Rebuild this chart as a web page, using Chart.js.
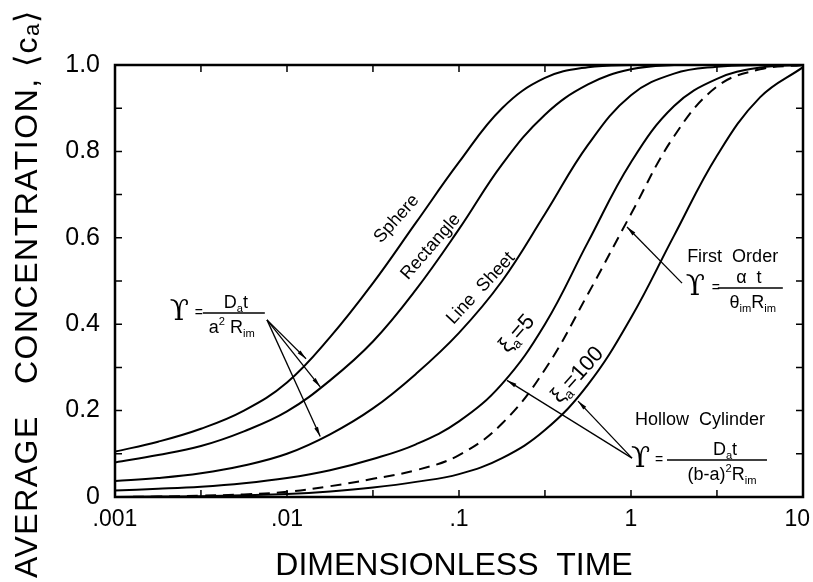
<!DOCTYPE html>
<html>
<head>
<meta charset="utf-8">
<script src="https://cdn.jsdelivr.net/npm/chart.js@4.4.1/dist/chart.umd.min.js"></script>
<style>
  body { margin: 0; background: #fff; }
  canvas { display: block; }
</style>
</head>
<body>
<canvas id="chart" width="813" height="582"></canvas>
<script>
// dimensionless time, sampled every quarter decade
const times = [0.001, 0.00178, 0.00316, 0.00562, 0.01, 0.0178, 0.0316, 0.0562, 0.1, 0.178, 0.316, 0.562, 1, 1.78, 3.16, 5.62, 10];

// average concentration <ca>
const sphere     = [0.105, 0.128, 0.158, 0.2, 0.265, 0.37, 0.495, 0.635, 0.775, 0.9, 0.97, 0.995, 1, 1, 1, 1, 1];
const rectangle  = [0.08, 0.097, 0.118, 0.152, 0.198, 0.27, 0.36, 0.48, 0.62, 0.77, 0.885, 0.955, 0.99, 1, 1, 1, 1];
const lineSheet  = [0.037, 0.044, 0.055, 0.073, 0.1, 0.145, 0.205, 0.285, 0.38, 0.5, 0.655, 0.815, 0.93, 0.98, 0.996, 1, 1];
const hollow5    = [0.015, 0.019, 0.024, 0.032, 0.044, 0.062, 0.088, 0.122, 0.175, 0.262, 0.4, 0.59, 0.775, 0.905, 0.968, 0.994, 1];
const firstOrder = [0, 0.001, 0.003, 0.006, 0.012, 0.025, 0.042, 0.062, 0.097, 0.17, 0.295, 0.47, 0.655, 0.835, 0.95, 0.99, 1];
const hollow100  = [0, 0.001, 0.002, 0.004, 0.007, 0.013, 0.022, 0.035, 0.053, 0.09, 0.155, 0.26, 0.415, 0.605, 0.79, 0.925, 0.995];

const xTickValues = [0.001, 0.01, 0.1, 1, 10];
const xTickLabels = ['.001', '.01', '.1', '1', '10\u2002'];  // en space keeps "10" inside the canvas
const yTickLabels = ['0', '0.2', '0.4', '0.6', '0.8', '1.0'];
const xMarks = [0.001, 0.00316, 0.01, 0.0316, 0.1, 0.316, 1, 3.16, 10];
const yMarks = [0, 0.1, 0.2, 0.3, 0.4, 0.5, 0.6, 0.7, 0.8, 0.9, 1];

const FONT = '"Liberation Sans", Arial, sans-serif';

// labels written along the curves (data position, rotation, lift off the curve in px)
const curveLabels = [
  { runs: [['Sphere', 0]], x: 0.0454, y: 0.637, angle: -48, lift: 6, size: 18 },
  { runs: [['Rectangle', 0]], x: 0.0755, y: 0.565, angle: -49, lift: 11, size: 18 },
  { runs: [['Line  Sheet', 0]], x: 0.147, y: 0.468, angle: -47, lift: 11, size: 18 },
  { runs: [['ξ', 0], ['a', -1], ['=5', 0]], x: 0.229, y: 0.37, angle: -49, lift: 7, size: 22 },
  { runs: [['ξ', 0], ['a', -1], ['=100', 0]], x: 0.49, y: 0.282, angle: -48, lift: 2, size: 22 }
];

const plainLabels = [
  { text: 'First  Order', x: 2.12, y: 0.544 },
  { text: 'Hollow  Cylinder', x: 1.055, y: 0.167 }
];

// x, y: left of the upsilon and height of the fraction bar
const formulas = [
  { x: 0.00214, y: 0.426, eq: 23, bar: [31, 93], numX: 64, denX: 60,
    num: [['D', 0], ['a', -1], ['t', 0]],
    den: [['a', 0], ['2', 1], [' R', 0], ['im', -1]] },
  { x: 2.14, y: 0.484, eq: 24, bar: [30, 95], numX: 61, denX: 65,
    num: [['α  t', 0]],
    den: [['θ', 0], ['im', -1], ['R', 0], ['im', -1]] },
  { x: 1.027, y: 0.0856, eq: 22, bar: [34, 134], numX: 92, denX: 89,
    num: [['D', 0], ['a', -1], ['t', 0]],
    den: [['(b-a)', 0], ['2', 1], ['R', 0], ['im', -1]] }
];

const arrows = [
  { from: [0.00765, 0.41], to: [0.0129, 0.32] },
  { from: [0.00765, 0.41], to: [0.0156, 0.255] },
  { from: [0.00765, 0.41], to: [0.0156, 0.14] },
  { from: [1.98, 0.495], to: [0.948, 0.625] },
  { from: [1.0135, 0.09], to: [0.19, 0.27] },
  { from: [1.0135, 0.09], to: [0.492, 0.222] }
];

function series(values) {
  return times.map((t, i) => ({ x: t, y: values[i] }));
}

function runsWidth(ctx, runs, size) {
  let w = 0;
  runs.forEach(([t, m]) => {
    ctx.font = (m ? size * 0.62 : size) + 'px ' + FONT;
    w += ctx.measureText(t).width;
  });
  return w;
}

// draws text with sub (-1) / superscript (1) pieces, centred on cx
function drawRuns(ctx, runs, cx, base, size) {
  let px = cx - runsWidth(ctx, runs, size) / 2;
  ctx.textAlign = 'left';
  ctx.textBaseline = 'alphabetic';
  runs.forEach(([t, m]) => {
    ctx.font = (m ? size * 0.62 : size) + 'px ' + FONT;
    const dy = m === -1 ? size * 0.22 : m === 1 ? -size * 0.42 : 0;
    ctx.fillText(t, px, base + dy);
    px += ctx.measureText(t).width;
  });
}

function arrow(ctx, x0, y0, x1, y1) {
  const ang = Math.atan2(y1 - y0, x1 - x0);
  ctx.beginPath();
  ctx.moveTo(x0, y0);
  ctx.lineTo(x1, y1);
  ctx.stroke();
  ctx.beginPath();
  ctx.moveTo(x1, y1);
  ctx.lineTo(x1 - 10 * Math.cos(ang - 0.2), y1 - 10 * Math.sin(ang - 0.2));
  ctx.lineTo(x1 - 10 * Math.cos(ang + 0.2), y1 - 10 * Math.sin(ang + 0.2));
  ctx.closePath();
  ctx.fill();
}

const frameAndNotes = {
  id: 'frameAndNotes',
  afterDatasetsDraw(chart) {
    const { ctx, chartArea: a, scales: { x, y } } = chart;
    ctx.save();
    ctx.strokeStyle = '#000';
    ctx.fillStyle = '#000';

    // box and inward ticks
    ctx.lineWidth = 2.5;
    ctx.strokeRect(a.left, a.top, a.right - a.left, a.bottom - a.top);
    ctx.lineWidth = 1.5;
    ctx.beginPath();
    xMarks.forEach(v => {
      const px = x.getPixelForValue(v);
      ctx.moveTo(px, a.top); ctx.lineTo(px, a.top + 7);
      ctx.moveTo(px, a.bottom); ctx.lineTo(px, a.bottom - 7);
    });
    yMarks.forEach(v => {
      const py = y.getPixelForValue(v);
      ctx.moveTo(a.left, py); ctx.lineTo(a.left + 7, py);
      ctx.moveTo(a.right, py); ctx.lineTo(a.right - 7, py);
    });
    ctx.stroke();

    // curve names
    curveLabels.forEach(l => {
      ctx.save();
      ctx.translate(x.getPixelForValue(l.x), y.getPixelForValue(l.y));
      ctx.rotate(l.angle * Math.PI / 180);
      drawRuns(ctx, l.runs, 0, l.size * 0.36 - l.lift, l.size);
      ctx.restore();
    });

    ctx.font = '18px ' + FONT;
    ctx.textAlign = 'left';
    ctx.textBaseline = 'alphabetic';
    plainLabels.forEach(l => ctx.fillText(l.text, x.getPixelForValue(l.x), y.getPixelForValue(l.y)));

    // formulas
    formulas.forEach(f => {
      const px = x.getPixelForValue(f.x);
      const py = y.getPixelForValue(f.y);
      ctx.font = '28px "DejaVu Serif", serif';
      ctx.textAlign = 'left';
      ctx.textBaseline = 'middle';
      ctx.fillText('ϒ', px - 2, py);
      ctx.font = '14px ' + FONT;
      ctx.fillText('=', px + f.eq, py);
      ctx.lineWidth = 1.5;
      ctx.beginPath();
      ctx.moveTo(px + f.bar[0], py);
      ctx.lineTo(px + f.bar[1], py);
      ctx.stroke();
      drawRuns(ctx, f.num, px + f.numX, py - 5, 18);
      drawRuns(ctx, f.den, px + f.denX, py + 20, 18);
    });

    ctx.lineWidth = 1.3;
    arrows.forEach(r => arrow(ctx,
      x.getPixelForValue(r.from[0]), y.getPixelForValue(r.from[1]),
      x.getPixelForValue(r.to[0]), y.getPixelForValue(r.to[1])));

    // axis titles
    ctx.font = '32px ' + FONT;
    ctx.textAlign = 'center';
    ctx.textBaseline = 'alphabetic';
    ctx.fillText('DIMENSIONLESS  TIME', 454, 575);
    ctx.save();
    ctx.translate(37, 578);
    ctx.rotate(-Math.PI / 2);
    ctx.textAlign = 'left';
    ctx.letterSpacing = '1.5px';
    ctx.fillText('AVERAGE   CONCENTRATION, ⟨cₐ⟩', 0, 0);
    ctx.restore();

    ctx.restore();
  }
};

const line = (values, dash) => ({
  data: series(values),
  borderColor: '#000',
  borderWidth: 2,
  borderDash: dash || [],
  pointRadius: 0,
  tension: 0.4,
  fill: false
});

new Chart(document.getElementById('chart'), {
  type: 'line',
  data: {
    datasets: [
      line(sphere),
      line(rectangle),
      line(lineSheet),
      line(hollow5),
      line(firstOrder, [11, 7]),
      line(hollow100)
    ]
  },
  options: {
    responsive: false,
    animation: false,
    layout: { padding: { top: 65, right: 10, left: 0, bottom: 0 } },
    plugins: { legend: { display: false }, tooltip: { enabled: false } },
    scales: {
      x: {
        type: 'logarithmic',
        min: 0.001,
        max: 10,
        grid: { display: false, drawTicks: false },
        border: { display: false },
        afterBuildTicks: s => { s.ticks = xTickValues.map(v => ({ value: v })); },
        afterFit: s => { s.height = 85; s.paddingLeft = 0; s.paddingRight = 0; },
        ticks: {
          autoSkip: false,
          maxRotation: 0,
          padding: 9,
          color: '#000',
          font: { family: FONT, size: 23 },
          callback: (v, i) => xTickLabels[i]
        }
      },
      y: {
        min: 0,
        max: 1,
        grid: { display: false, drawTicks: false },
        border: { display: false },
        afterFit: s => { s.width = 115; },
        ticks: {
          stepSize: 0.2,
          padding: 15,
          color: '#000',
          font: { family: FONT, size: 25 },
          callback: (v, i) => yTickLabels[i]
        }
      }
    }
  },
  plugins: [frameAndNotes]
});
</script>
</body>
</html>
